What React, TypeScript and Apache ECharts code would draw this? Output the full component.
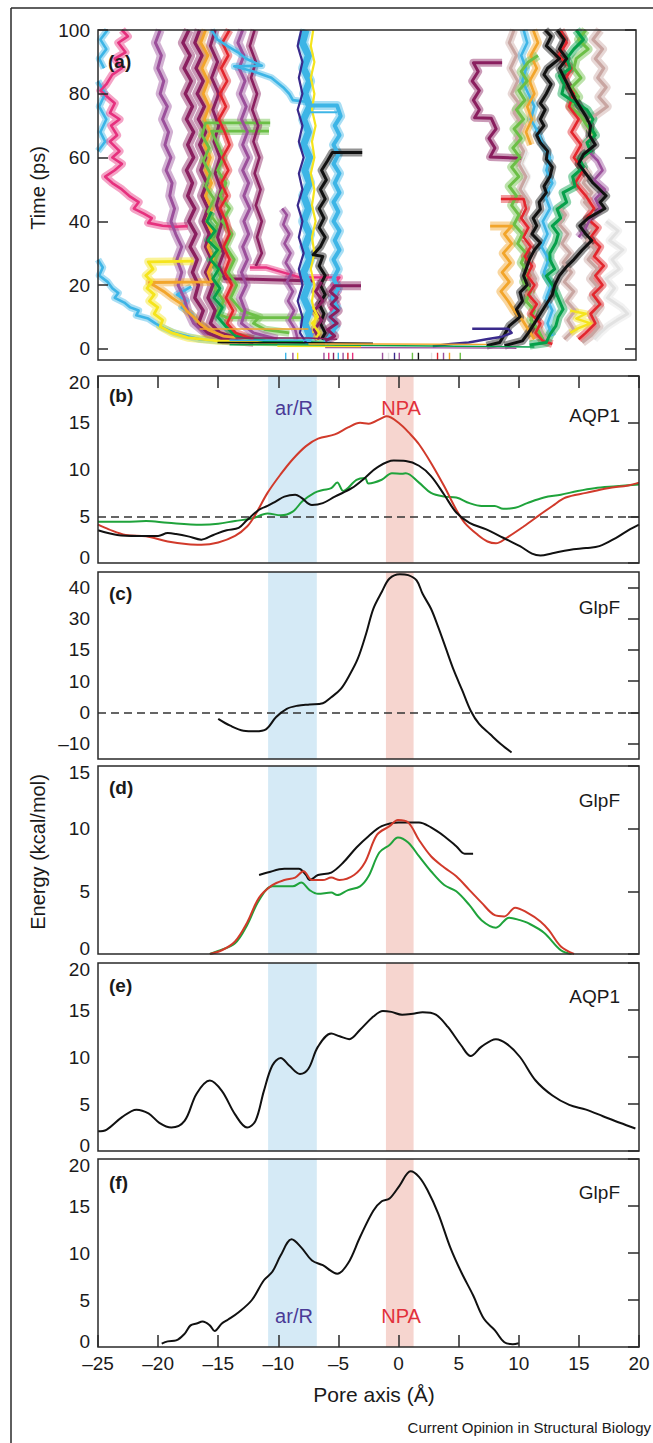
import React, { useEffect, useRef } from "react";
import * as echarts from "echarts";

// ---------- shared axis ----------
const X_MIN = -25;
const X_MAX = 20;
const X_STEP = 5;

// ---------- tick values ----------
const aYTicks = [0, 20, 40, 60, 80, 100];
const bYTicks = [0, 5, 10, 15, 20];
const cYTicks = [-10, 0, 10, 20, 30, 40];
const cYTickLabels = ["\u201310", "0", "10", "15", "30", "40"];
const dYTicks = [0, 5, 10, 15];
const eYTicks = [0, 5, 10, 15, 20];
const fYTicks = [0, 5, 10, 15, 20];

// ---------- regions (pore axis, Å) ----------
const arRegion = [-10.85, -6.8];
const npaRegion = [-1.05, 1.25];
const bDashY = 5;
const cDashY = 0;

// ---------- panel (b) AQP1 ----------
const bRed = [[-25,4.1],[-24.1,3.6],[-22.7,3.0],[-21.0,2.85],[-19.2,2.3],[-17.5,2.0],[-16.4,1.95],[-15.0,2.2],[-13.6,2.9],[-12.6,3.9],[-11.9,5.2],[-10.9,7.5],[-9.8,9.5],[-8.8,11.1],[-7.7,12.5],[-6.7,13.3],[-5.3,13.75],[-4.2,14.5],[-3.2,15.0],[-2.5,14.9],[-1.4,15.5],[-1.0,15.7],[0.0,15.0],[1.0,13.75],[1.7,12.7],[2.7,10.7],[3.8,8.2],[4.8,5.7],[5.5,4.3],[6.6,3.0],[7.4,2.3],[8.1,2.1],[9.0,2.7],[10.4,3.9],[11.8,5.2],[12.8,6.1],[13.9,7.0],[15.6,7.5],[17.4,8.0],[19.1,8.3],[20,8.6]];
const bBlack = [[-25,3.5],[-23.4,3.0],[-21.7,2.9],[-20.0,2.9],[-19.2,3.2],[-18.5,3.1],[-17.5,2.85],[-16.4,2.5],[-15.4,3.0],[-14.3,3.5],[-13.3,3.75],[-12.6,4.6],[-11.6,5.7],[-10.9,6.1],[-10.2,6.6],[-9.5,7.1],[-8.6,7.3],[-8.1,7.0],[-7.2,6.2],[-6.3,6.4],[-5.3,7.1],[-3.9,8.0],[-2.8,9.1],[-1.8,10.2],[-0.4,10.95],[0.6,10.9],[1.7,10.4],[2.7,9.3],[3.8,7.3],[4.8,5.4],[5.9,4.3],[7.3,3.6],[8.7,2.7],[10.1,1.8],[11.1,1.0],[11.8,0.8],[12.8,1.05],[14.2,1.4],[15.6,1.6],[16.7,1.8],[18.1,2.7],[19.1,3.5],[20,4.1]];
const bGreen = [[-25,4.4],[-22.7,4.4],[-21.0,4.5],[-19.2,4.3],[-16.4,4.1],[-15.0,4.2],[-13.6,4.5],[-12.2,4.75],[-10.9,5.3],[-9.8,5.1],[-8.8,5.5],[-8.0,6.6],[-7.0,7.5],[-6.3,7.8],[-5.6,8.0],[-5.1,8.6],[-4.6,7.7],[-3.5,8.9],[-2.8,9.1],[-2.5,8.5],[-1.4,8.9],[-0.55,9.6],[0.3,9.55],[0.6,9.6],[1.7,8.6],[2.7,7.5],[3.8,7.1],[4.8,7.0],[5.9,6.4],[6.9,6.1],[8.0,6.1],[8.7,5.8],[9.7,5.9],[10.7,6.4],[12.1,7.0],[13.5,7.3],[14.9,7.7],[16.3,8.0],[18.1,8.2],[20,8.4]];

// ---------- panel (c) GlpF ----------
const cBlack = [[-15.0,-2.1],[-14.0,-4.3],[-12.9,-5.9],[-11.9,-6.1],[-11.0,-5.4],[-10.2,-1.6],[-9.3,1.1],[-8.4,2.1],[-7.4,2.5],[-6.3,2.9],[-5.6,4.8],[-4.8,7.5],[-4.1,11.8],[-3.4,17.1],[-2.7,25.2],[-2.1,33.2],[-1.4,38.6],[-0.75,42.9],[0.1,44.3],[0.8,44.0],[1.5,42.3],[2.0,38.0],[2.7,33.2],[3.3,27.3],[3.9,20.9],[4.6,13.4],[5.3,7.0],[6.0,0.5],[6.7,-3.75],[7.6,-7.0],[8.5,-10.2],[9.4,-12.9]];

// ---------- panel (d) GlpF ----------
const dBlack = [[-11.6,6.3],[-10.9,6.5],[-9.5,6.8],[-8.3,6.8],[-7.7,6.3],[-7.4,5.9],[-6.7,6.3],[-5.6,6.5],[-4.6,7.3],[-3.5,8.5],[-2.5,9.4],[-1.4,10.2],[0.0,10.5],[1.7,10.5],[2.7,10.1],[3.8,9.4],[4.8,8.6],[5.5,8.0],[6.2,8.0]];
const dRed = [[-15.7,0],[-14.7,0.3],[-13.6,1.0],[-12.6,2.5],[-11.6,4.5],[-10.5,5.5],[-9.5,5.9],[-8.6,6.1],[-7.9,6.6],[-7.2,5.9],[-6.3,5.9],[-5.6,6.1],[-4.9,5.9],[-3.7,6.3],[-2.8,7.3],[-1.8,9.5],[-0.75,10.2],[-0.05,10.7],[0.8,10.5],[1.7,9.1],[2.7,7.8],[3.8,6.9],[4.8,6.2],[5.9,5.1],[6.9,4.1],[8.0,3.1],[8.8,3.0],[9.7,3.7],[10.7,3.3],[11.8,2.6],[12.5,1.9],[13.5,0.6],[14.6,0]];
const dGreen = [[-15.7,0],[-15.0,0.24],[-13.6,0.86],[-12.6,2.3],[-11.6,4.3],[-10.5,5.4],[-8.8,5.4],[-8.1,5.7],[-7.4,5.1],[-6.7,4.8],[-5.6,4.9],[-5.1,4.7],[-4.2,5.1],[-3.2,5.4],[-2.5,6.2],[-1.6,8.1],[-0.75,8.7],[-0.05,9.3],[0.8,8.9],[1.7,7.8],[2.7,6.6],[3.8,5.5],[4.8,5.0],[5.9,3.9],[6.9,2.7],[8.1,2.1],[9.2,2.9],[10.1,2.7],[10.7,2.5],[12.1,1.7],[13.5,0.3],[14.4,0]];

// ---------- panel (e) AQP1 ----------
const eBlack = [[-25,2.1],[-24.3,2.25],[-23.0,3.6],[-21.8,4.4],[-20.8,4.0],[-19.9,3.0],[-18.9,2.5],[-17.8,3.2],[-16.8,6.1],[-15.7,7.5],[-14.7,6.4],[-13.6,3.9],[-12.6,2.5],[-11.9,3.2],[-11.2,6.4],[-10.5,9.1],[-9.8,9.9],[-9.1,9.1],[-8.2,8.2],[-7.5,8.75],[-6.7,11.1],[-5.6,12.5],[-4.9,12.2],[-4.1,11.9],[-3.2,12.9],[-2.1,14.3],[-1.3,14.9],[-0.6,14.8],[0.3,14.5],[1.2,14.6],[2.0,14.75],[3.1,14.5],[4.1,13.2],[5.2,11.25],[6.0,10.1],[6.9,11.1],[8.1,11.9],[9.0,11.4],[10.1,10.0],[11.4,7.5],[12.8,5.9],[14.2,4.9],[15.6,4.4],[17.0,3.7],[18.4,3.0],[19.7,2.4]];

// ---------- panel (f) GlpF ----------
const fBlack = [[-19.7,0.35],[-19.2,0.6],[-18.5,0.7],[-17.8,1.4],[-17.3,2.3],[-16.8,2.5],[-16.3,2.7],[-15.7,2.3],[-15.3,1.7],[-14.7,2.5],[-14.2,2.9],[-13.3,3.7],[-12.2,5.0],[-11.2,7.1],[-10.5,8.0],[-9.8,9.75],[-8.9,11.45],[-8.1,10.6],[-7.2,9.2],[-6.3,8.7],[-5.1,7.8],[-4.2,8.9],[-3.2,11.7],[-2.1,14.5],[-1.4,15.5],[-0.75,15.8],[0.1,17.2],[1.0,18.7],[1.7,18.1],[2.4,16.7],[3.3,14.2],[4.3,10.6],[5.2,8.0],[6.2,5.5],[7.1,3.0],[8.0,1.8],[8.8,0.5],[9.5,0.3],[10.0,0.4]];

// ---------- panel (a) water trajectories: [pore axis Å, time ps] ----------
const trGrayR = [[17.5,40],[18.5,37],[17.8,34],[18.9,31],[18.0,28],[18.6,25],[17.5,22],[18.2,19],[17.6,16],[18.8,13],[19.3,11],[18.4,9],[17.6,7],[17.0,5],[16.5,3]];
const trGrayR2 = [[10.8,62],[10.3,58],[10.9,54],[10.4,50],[11.0,46],[10.5,42],[11.1,38],[10.6,34]];
const trBeigeR1 = [[9.8,100],[9.4,96],[10.0,92],[9.5,88],[10.1,84],[9.6,80],[10.2,77],[9.8,74],[10.5,70],[10.0,66],[10.6,62],[10.2,58],[10.8,54],[10.3,50],[11.0,46],[10.6,42],[11.2,38],[10.8,34],[11.4,30],[11.0,26],[11.6,22],[11.2,18],[11.8,14],[11.4,10],[12.0,6],[12.5,3]];
const trBeigeR = [[17.0,100],[16.4,97],[17.2,94],[16.6,91],[17.3,88],[16.8,85],[17.5,82],[16.9,79],[17.6,76],[16.5,73],[15.8,70],[16.3,67],[15.6,64],[16.2,61],[15.4,58],[16.0,55],[15.6,52],[16.3,49],[15.7,46],[16.4,43],[15.8,40],[16.5,37],[15.9,34],[16.6,31],[16.0,28],[16.8,25],[16.2,22],[16.9,19],[16.3,16],[17.0,13],[16.4,10],[16.9,7],[16.2,4],[15.5,2]];
const trBeigeR2 = [[13.5,45],[14.1,42],[13.6,39],[14.3,36],[13.8,33],[14.5,30],[13.9,27],[14.6,24],[14.0,21],[14.8,18],[14.2,15],[14.9,12],[14.3,9],[14.8,6],[14.0,3]];
const trCyanTopLeft1 = [[-24.2,100],[-24.8,97],[-24.3,94],[-24.9,91],[-24.5,88]];
const trCyanTopLeft2 = [[-25,84],[-24.4,80],[-24.9,76],[-24.3,72],[-24.8,68],[-24.4,65],[-25,62]];
const trPinkLeft = [[-23.0,100],[-22.5,98],[-23.3,96],[-22.7,93],[-23.6,91],[-23.0,88],[-23.8,86],[-24.3,83],[-24.8,81],[-24.2,79],[-23.6,77],[-24.0,74],[-23.2,72],[-23.9,70],[-23.4,67],[-24.0,65],[-23.2,62],[-23.8,60],[-23.0,58],[-23.6,56],[-24.4,54],[-23.8,52],[-23.0,50],[-22.4,48],[-21.6,46],[-22.0,44],[-21.2,42.5],[-20.5,41],[-20.8,39.5],[-19.6,38.6],[-18.5,38.3],[-17.5,38.5]];
const trCyanLowLeft = [[-25,28],[-24.6,25.5],[-24.9,23],[-24.2,21],[-23.8,19],[-23.3,17.5],[-23.6,16],[-22.8,14.5],[-22.3,13],[-21.6,12],[-21.8,10.5],[-20.8,9.5],[-20.2,8],[-19.5,6.5],[-18.6,5],[-17.6,4],[-16.5,3],[-14,2.2]];
const trCyanLowLeft2 = [[-17.2,19.5],[-18.4,17],[-17.6,15],[-18.0,13],[-17.2,11],[-16.8,9],[-16.2,7],[-15.5,5],[-14.5,3.5],[-12,2.8]];
const trPurpleLeft = [[-19.8,100],[-20.2,96],[-19.7,92],[-20.0,88],[-19.5,84],[-19.8,80],[-19.2,76],[-19.6,72],[-19.1,68],[-19.4,64],[-18.9,60],[-19.3,56],[-18.8,52],[-19.0,48],[-18.6,44],[-18.9,40],[-18.5,36],[-18.0,32],[-18.4,28],[-18.0,24],[-18.3,20],[-17.8,16],[-17.5,12],[-17.0,8],[-16.0,5],[-14,3]];
const trWine1 = [[-17.4,100],[-17.9,96],[-17.3,92],[-17.8,88],[-17.2,84],[-17.7,80],[-17.1,76],[-17.6,72],[-17.0,68],[-17.5,64],[-17.0,60],[-17.6,56],[-17.1,52],[-17.5,48],[-16.9,44],[-17.4,40],[-16.8,36],[-17.3,32],[-16.7,28],[-17.1,24],[-16.6,20],[-16.9,16],[-16.2,12],[-16.6,8],[-15.8,5],[-14.5,3],[-12,2.2]];
const trWine2 = [[-16.5,100],[-16.9,96],[-16.3,92],[-16.8,88],[-16.2,84],[-16.7,80],[-16.1,76],[-16.6,72],[-16.0,68],[-16.5,64],[-16.0,60],[-16.4,56],[-15.9,52],[-16.3,48],[-15.8,44],[-16.2,40],[-15.7,36],[-16.0,32],[-15.5,28],[-16.0,24],[-15.4,20],[-15.8,16],[-15.2,12],[-15.6,8],[-14.8,5],[-13,3]];
const trWine3 = [[-15.2,100],[-15.6,95],[-15.0,90],[-15.5,85],[-14.9,80],[-15.4,75],[-14.9,70],[-15.3,65],[-14.8,60],[-15.2,55],[-14.7,50],[-15.1,45],[-14.6,40],[-15.0,35],[-14.5,30],[-14.9,26],[-14.4,22],[-12,21.8],[-9,21.5],[-7,21.3]];
const trOrangeLeft = [[-16.0,100],[-16.4,96],[-15.8,92],[-16.3,88],[-15.8,84],[-16.2,80],[-15.7,76],[-16.1,72],[-15.6,68],[-16.1,64],[-15.6,60],[-16.0,56],[-15.5,52],[-16.0,48],[-15.5,44],[-15.9,40],[-15.4,36],[-15.8,32],[-15.3,28],[-15.8,24],[-15.5,21],[-20.7,20.8],[-19.5,18],[-18.8,16],[-18.0,14],[-17.6,12],[-17.0,10],[-16.5,8],[-15.8,6],[-14.5,4],[-12,3]];
const trYellowLeft = [[-17.0,27.5],[-20.8,27.3],[-20.4,25],[-21.0,23],[-20.5,21],[-20.9,19],[-20.3,17],[-20.7,15],[-20.0,13],[-20.3,11],[-19.6,9],[-19.8,7],[-18.8,5],[-17.5,3.5],[-15,2.5],[-10,2]];
const trLGreen1 = [[-10.6,70.9],[-16.0,70.9],[-16.3,67],[-15.7,63],[-16.2,59],[-15.6,55],[-16.0,51],[-15.3,47],[-15.8,43],[-15.0,39],[-15.5,35],[-14.8,31],[-15.3,27],[-14.7,23],[-15.2,19],[-14.5,15],[-15.0,11],[-14.2,9.8],[-10,9.8],[-7.3,9.8]];
const trLGreen2 = [[-10.7,68.3],[-15.5,68.3],[-15.0,64],[-14.5,60],[-15.0,56],[-14.3,52],[-14.8,48],[-14.0,44],[-14.6,40],[-13.8,36],[-14.3,32],[-13.6,28],[-14.1,24],[-13.4,20],[-13.9,16],[-13.0,12],[-11.5,10],[-12,8],[-11,6],[-9,5]];
const trDGreenLeft = [[-15.5,43],[-15.9,40],[-15.2,37],[-15.8,34],[-15.0,31],[-15.6,28],[-14.9,25],[-15.4,22],[-14.8,19],[-15.3,16],[-14.6,13],[-15.0,10],[-14.3,7],[-13.5,4],[-11,2.5],[-6,1.8]];
const trRedLeft = [[-14.0,100],[-14.6,96],[-14.1,92],[-14.7,88],[-14.2,84],[-14.8,80],[-14.3,76],[-14.9,72],[-14.4,68],[-14.0,64],[-14.6,60],[-14.1,56],[-14.7,52],[-14.2,48],[-14.8,44],[-14.3,40],[-14.0,36],[-14.5,32],[-14.0,28],[-14.4,24],[-13.8,20],[-14.3,16],[-13.7,12],[-14.2,8],[-13.5,5],[-12,3]];
const trPurple2 = [[-12.9,100],[-13.3,96],[-12.8,92],[-13.2,88],[-12.7,84],[-13.1,80],[-12.6,76],[-13.0,72],[-12.5,68],[-12.9,64],[-12.4,60],[-12.9,56],[-12.4,52],[-12.8,48],[-12.3,44],[-12.8,40],[-12.4,36],[-12.9,32],[-12.5,28],[-13.0,24],[-12.6,20],[-13.1,16],[-12.7,12],[-13.0,8],[-12,5],[-10,3]];
const trWine4 = [[-11.9,100],[-12.3,95],[-11.8,90],[-12.2,85],[-11.7,80],[-12.1,75],[-11.6,70],[-12.0,65],[-11.5,60],[-11.9,55],[-11.4,50],[-11.8,45],[-11.3,40],[-11.7,35],[-11.3,30],[-11.8,26]];
const trPinkMid = [[-12.3,25.5],[-10.9,25.5],[-8.1,22.4],[-4.8,22.4],[-5.3,20],[-4.9,18],[-5.5,16],[-5.0,14],[-5.6,12]];
const trCyanMidTop = [[-15.5,100],[-15.0,97],[-14.2,95],[-13.3,93],[-12.6,91],[-11.3,88.8],[-13.6,88.6],[-12.0,87],[-10.5,85],[-9.5,82],[-9.0,80],[-8.7,78],[-7.6,77.5]];
const trCyanBand = [[-7.6,100],[-7.9,96],[-7.4,92],[-7.8,88],[-7.3,84],[-7.7,80],[-7.3,76],[-7.8,72],[-7.4,68],[-7.8,64],[-7.3,60],[-7.7,56],[-7.3,52],[-7.8,48],[-7.4,44],[-7.8,40],[-7.3,36],[-7.7,32],[-7.3,28],[-7.8,24],[-7.4,20],[-7.8,16],[-7.3,12],[-7.7,8],[-7.3,4],[-7.6,1.5]];
const trIndigoBand = [[-8.0,100],[-8.3,95],[-7.9,90],[-8.2,85],[-7.9,80],[-8.3,75],[-7.9,70],[-8.2,65],[-7.8,60],[-8.2,55],[-7.9,50],[-8.3,45],[-7.9,40],[-8.2,35],[-7.8,30],[-8.2,25],[-7.9,20],[-8.3,15],[-7.9,10],[-8.1,5],[-7.6,2]];
const trYellowBand = [[-7.0,100],[-7.2,95],[-6.9,90],[-7.2,85],[-6.9,80],[-7.1,75],[-6.8,70],[-7.1,65],[-6.9,60],[-7.2,55],[-6.9,50],[-7.1,45],[-6.8,40],[-7.1,35],[-6.9,30],[-7.2,25],[-6.9,20],[-7.1,15],[-6.8,10],[-7.0,5]];
const trCyanMid = [[-7.4,76.3],[-5.0,76.3],[-4.7,73],[-5.2,70],[-4.8,67],[-5.3,64],[-4.9,61],[-5.3,58],[-4.8,55],[-5.2,52],[-4.8,49],[-5.3,46],[-4.9,43],[-5.3,40],[-4.8,37],[-5.2,34],[-4.8,31],[-5.3,28],[-4.9,25],[-5.3,22],[-4.9,19],[-5.4,16],[-5.0,13],[-5.5,10],[-5.1,7],[-5.6,4],[-6.0,2]];
const trCyanMidJump = [[-7.4,74.2],[-5.0,74.2]];
const trBlackMid = [[-2.9,61.6],[-5.4,61.6],[-5.8,59],[-6.3,56],[-5.9,53],[-6.4,50],[-6.0,47],[-6.5,44],[-6.1,41],[-6.5,38],[-6.0,35],[-6.4,32],[-7.0,29.5],[-6.2,29],[-6.5,26],[-6.0,23],[-6.4,20],[-6.0,17],[-6.5,14],[-6.1,11],[-6.4,8],[-6.0,5],[-6.3,3]];
const trPurpleMid = [[-9.6,44],[-9.2,42],[-9.5,39],[-9.0,36],[-9.4,33],[-8.9,30],[-9.3,27],[-8.8,24],[-9.2,21],[-8.7,18],[-9.1,15],[-8.6,12],[-9.0,9],[-8.5,6],[-8.3,3]];
const trWineMid1 = [[-3.0,19.8],[-5.2,19.8],[-5.6,18],[-5.0,16],[-5.5,14],[-4.9,12],[-5.6,10],[-5.0,8],[-5.8,6],[-5.2,4],[-6,2.5]];
const trWineMid2 = [[-6.3,21],[-6.8,18],[-6.2,15],[-6.9,12],[-6.3,9],[-6.9,6],[-6.5,3]];
const trYellowMid = [[-7.0,13],[-6.6,10],[-7.1,8],[-6.5,5],[-6.8,3]];
const trWineRight = [[8.8,89.7],[6.4,89.7],[6.8,87],[6.3,84],[6.9,81],[6.4,78],[6.9,75],[6.5,72.5],[7.9,72.3],[8.3,69],[7.7,66],[8.2,63],[7.8,60.2],[10.4,59.8]];
const trCyanR = [[10.6,100],[10.9,96],[10.4,92],[10.8,88],[10.5,84],[11.0,80],[11.5,76],[11.2,72],[11.8,68],[12.2,64],[12.8,60],[12.5,56],[13.0,52],[12.4,48],[12.8,44],[12.2,40],[12.6,36],[12.1,32],[12.7,28],[12.3,24],[12.9,20],[12.5,16],[13.0,12],[12.6,8],[13.0,4]];
const trOrangeRTop = [[11.4,100],[11.8,96],[11.2,92],[11.7,88],[11.1,84],[11.5,80],[10.9,76],[11.3,72],[10.8,68],[11.2,64]];
const trOrangeRLow = [[7.8,38.5],[9.6,38.5],[9.0,36],[9.6,33],[8.9,30],[9.5,27],[8.8,24],[9.4,21],[8.7,18],[9.3,15],[9.8,12],[10.5,9],[11.0,6],[11.5,3]];
const trLGreenR1 = [[11.8,92],[11.0,90],[10.4,87],[10.9,84],[10.2,81],[10.7,78],[10.0,75],[10.6,72],[9.8,69],[10.4,66],[9.7,63],[10.3,60],[9.6,57],[10.2,54],[9.4,51],[10.0,48],[9.6,45],[10.2,42],[9.8,39],[10.5,36],[10.1,33],[10.8,30],[10.4,27],[11.0,24],[10.6,21],[11.2,18],[10.8,15],[11.5,12],[11.2,9],[11.8,6],[12.2,3]];
const trLGreenR2 = [[15.8,100],[15.2,97],[16.0,94],[15.0,91],[14.8,88],[15.4,85],[14.6,82],[15.2,79],[14.5,76],[15.4,73],[15.9,70],[16.5,67]];
const trDGreenR = [[15.0,100],[15.6,97],[14.8,94],[14.2,91],[14.5,88],[13.6,85.6],[14.0,83],[13.8,80],[14.6,78],[15.9,75],[16.4,72],[16.1,70],[16.6,67],[15.9,64.7],[16.2,62],[15.3,59.5],[15.6,57],[14.7,54],[14.9,51],[13.9,49],[14.2,46],[13.4,43.8],[13.7,41],[13.0,38.6],[13.5,36],[13.3,33.3],[12.8,30],[12.8,28],[13.2,25],[12.5,22.9],[13.0,20],[13.3,17.7],[13.6,15],[13.9,12.4],[13.5,10],[13.3,7.2],[12.8,4.5],[12.5,2],[11.1,1.2]];
const trBlackR1 = [[12.4,100],[12.9,98],[12.5,95],[13.6,91],[12.6,88],[12.3,86],[12.9,83],[12.5,80],[12.0,77],[12.4,75],[12.0,72],[12.3,70],[11.7,67],[12.0,64.7],[12.6,62],[12.5,59.5],[13.0,57],[12.8,54],[12.3,51],[12.5,49],[11.9,46],[12.0,43.8],[11.4,41],[11.7,38.6],[11.3,36],[12.0,33.3],[11.5,31],[11.1,28.1],[10.8,25],[10.6,22.9],[10.9,20],[10.3,17.7],[10.5,15],[10.0,12.4],[10.3,10],[9.4,7.2],[9.0,4.5],[8.6,2],[7.5,1]];
const trBlackR2 = [[13.4,100],[14.0,97],[13.6,94],[14.2,91],[13.6,88],[14.0,85],[14.4,82],[14.8,79],[15.3,76],[15.8,73],[16.2,70],[16.1,67],[16.6,64],[15.6,61],[15.2,58],[15.8,55],[16.4,52],[17.5,48],[17.0,46],[17.4,44],[16.0,41],[15.3,38.6],[15.8,36],[16.3,34],[15.5,31],[14.8,28],[14.2,25.8],[13.6,23],[13.2,20],[13.0,17],[12.5,14],[12.0,11],[11.5,8],[11.0,5],[10.5,2.5],[9.0,1]];
const trRedRA = [[8.7,47],[10.6,47],[10.8,44],[10.4,41],[11.0,38],[10.6,35],[11.2,32],[10.7,29],[11.3,26],[10.9,23],[11.5,20],[11.0,17],[11.7,14],[11.2,11],[12.0,8],[11.6,5],[12.2,2.5],[13,1.5]];
const trRedRB = [[13.7,100],[14.2,96],[13.5,92],[14.6,88],[14.0,84],[14.8,80],[14.4,76],[15.2,72],[14.6,68],[15.4,64],[14.8,60],[15.6,56],[14.9,52],[15.8,48],[16.5,44],[15.9,41],[16.8,38],[16.2,35],[17.0,32],[16.5,29],[17.3,26],[16.6,23],[17.2,20],[16.4,17],[17.0,14],[16.2,11],[16.6,8],[15.8,5],[15.2,3]];
const trPurpleR = [[16.0,62],[16.8,59],[17.2,56],[16.5,53],[17.4,50],[16.6,47],[17.0,44],[16.2,41],[15.8,38],[15.2,35]];
const trYellowR = [[14.5,12],[15.8,11],[15.0,9.5],[16.2,8],[15.2,6.5],[14.5,5]];
const trIndigoR = [[6.3,6.3],[9.3,6.3],[9.6,5],[8.8,3.8],[7.5,3.0],[6.0,2.0],[4.5,1.5],[3.0,0.8]];
const trBotOrange1 = [[-16.5,6.2],[-7.4,6.2]];
const trBotMagenta = [[-13.5,3.4],[-7.4,3.4],[-5,3.0]];
const trBotCyan = [[-14,2.7],[-7.4,2.7]];
const trBotBlack = [[-15,2.0],[-7.4,1.9],[-2,1.7]];
const trBotGreen = [[-14,1.3],[-7.4,1.2],[3,0.9],[11.5,0.6]];
const trBotOrange2 = [[-7.4,1.5],[-1.7,1.5],[7.5,1.4]];
const trBotPurple = [[-6,0.4],[4,0.3],[10,0.2]];
const trBotYellow = [[-10,0.8],[-3,0.7]];
const bottomTickX = [-9.3,-8.7,-8.3,-6.1,-5.7,-5.3,-4.9,-4.5,-4.1,-3.7,-1.2,-0.7,-0.2,0.2,1.3,1.8,2.9,3.4,3.9,4.4,5.3];
const bottomTickT = [-1.2, -3.5];

// ---------- styles ----------
const COL = {
  black: "#111111", pink: "#e6317e", cyan: "#3db5e6", wine: "#8a1f5f", purple: "#9b4f9b",
  orange: "#f2a52b", yellow: "#f5e41c", lgreen: "#6cbf47", dgreen: "#05a04a", red: "#e3262d",
  indigo: "#3a2a8c", beige: "#c9a6a2", gray: "#e2e2e2",
};
const bottomTickColors = ["cyan","purple","yellow","purple","pink","wine","cyan","purple","red","pink","purple","gray","indigo","purple","lgreen","black","gray","red","purple","orange","lgreen"];

// [points, colour key, line width, halo width (0 = none)]
const aTraj: [number[][], string, number, number][] = [
  [trGrayR, "gray", 3, 8], [trGrayR2, "gray", 3, 8], [trBeigeR1, "beige", 3, 8], [trBeigeR, "beige", 3.2, 9], [trBeigeR2, "beige", 3, 8],
  [trCyanTopLeft1, "cyan", 2.6, 7], [trCyanTopLeft2, "cyan", 2.6, 7], [trPinkLeft, "pink", 2.6, 8], [trCyanLowLeft, "cyan", 2.6, 7], [trCyanLowLeft2, "cyan", 2.6, 7],
  [trPurpleLeft, "purple", 3, 9], [trWine1, "wine", 3.4, 10], [trWine2, "wine", 3.4, 10], [trWine3, "wine", 3, 9], [trOrangeLeft, "orange", 2.8, 8],
  [trYellowLeft, "yellow", 2.8, 8], [trLGreen1, "lgreen", 2.8, 8], [trLGreen2, "lgreen", 2.8, 8], [trDGreenLeft, "dgreen", 2.8, 8], [trRedLeft, "red", 2.6, 8],
  [trPurple2, "purple", 3, 9], [trWine4, "wine", 2.6, 8], [trPinkMid, "pink", 2.4, 7], [trCyanMidTop, "cyan", 2.6, 7],
  [trCyanBand, "cyan", 7, 11], [trIndigoBand, "indigo", 2.2, 0], [trYellowBand, "yellow", 2.2, 0],
  [trCyanMid, "cyan", 4, 9], [trCyanMidJump, "cyan", 2, 0], [trBlackMid, "black", 3, 8], [trPurpleMid, "purple", 2.6, 8],
  [trWineMid1, "wine", 3, 9], [trWineMid2, "wine", 3, 9], [trYellowMid, "yellow", 2.4, 7],
  [trWineRight, "wine", 3, 8], [trCyanR, "cyan", 2.6, 8], [trOrangeRTop, "orange", 2.6, 8], [trOrangeRLow, "orange", 2.8, 9],
  [trLGreenR1, "lgreen", 3, 9], [trLGreenR2, "lgreen", 3, 9], [trRedRA, "red", 2.6, 8], [trRedRB, "red", 2.6, 8], [trPurpleR, "purple", 2.6, 8],
  [trBlackR1, "black", 3, 8], [trDGreenR, "dgreen", 3, 9], [trBlackR2, "black", 3, 8], [trYellowR, "yellow", 2.4, 7], [trIndigoR, "indigo", 2.4, 0],
  [trBotOrange1, "orange", 1.6, 0], [trBotMagenta, "wine", 1.6, 0], [trBotCyan, "cyan", 1.6, 0], [trBotBlack, "black", 1.6, 0],
  [trBotGreen, "dgreen", 1.6, 0], [trBotOrange2, "orange", 1.4, 0], [trBotPurple, "purple", 1.4, 0], [trBotYellow, "yellow", 1.4, 0],
];

const FONT = "'Liberation Sans', Arial, Helvetica, sans-serif";
const AX = "#2a2a2a";
const LABEL_COL = "#1a1a1a";
const CURVE_RED = "#d13a2b";
const CURVE_GREEN = "#1fa33b";
const CURVE_BLACK = "#111111";
const BAND_BLUE = "#d5eaf6";
const BAND_PINK = "#f6d5cf";

const panels = [
  { top: 30, height: 330, width: 538, yMin: -3.5, yMax: 100, ticks: aYTicks, texts: null as string[] | null, leftTicks: true, inset: false },
  { top: 376, height: 187, width: 541, yMin: 0, yMax: 20, ticks: bYTicks, texts: null, leftTicks: false, inset: true },
  { top: 572, height: 187, width: 541, yMin: -15, yMax: 45, ticks: cYTicks, texts: cYTickLabels, leftTicks: false, inset: false },
  { top: 766, height: 188, width: 541, yMin: 0, yMax: 15, ticks: dYTicks, texts: null, leftTicks: false, inset: true },
  { top: 963, height: 188, width: 541, yMin: 0, yMax: 20, ticks: eYTicks, texts: null, leftTicks: false, inset: true },
  { top: 1159, height: 188, width: 541, yMin: 0, yMax: 20, ticks: fYTicks, texts: null, leftTicks: false, inset: true },
];

function numText(v: number) {
  return v < 0 ? "\u2013" + Math.abs(v) : String(v);
}

function buildOption() {
  const grid: any[] = [];
  const xAxis: any[] = [];
  const yAxis: any[] = [];
  const series: any[] = [];
  const tickStyle = { color: AX, width: 1.5 };
  const labelBase = { fontSize: 19, color: LABEL_COL, fontFamily: FONT };

  panels.forEach((p, i) => {
    grid.push({
      left: 98, top: p.top, width: p.width, height: p.height, show: true,
      borderColor: AX, borderWidth: 1.5, backgroundColor: "transparent", z: 10,
    });
    xAxis.push({
      type: "value", gridIndex: i, min: X_MIN, max: X_MAX, interval: X_STEP, position: "bottom", z: 10,
      axisLine: { show: false, onZero: false },
      axisTick: { show: i === 5, inside: true, length: 12, lineStyle: tickStyle },
      axisLabel: { show: i === 5, formatter: numText, ...labelBase, margin: 7 },
      splitLine: { show: false },
    });
  });
  // one band grid per energy panel (b–f), so the shading stops at each panel frame
  for (let i = 1; i < panels.length; i++) {
    const p = panels[i];
    grid.push({ left: 98, top: p.top, width: p.width, height: p.height, show: false });
  }
  xAxis.push({
    type: "value", gridIndex: 1, min: X_MIN, max: X_MAX, interval: X_STEP, position: "top", z: 10,
    axisLine: { show: false, onZero: false },
    axisTick: { show: true, inside: true, length: 12, lineStyle: tickStyle },
    axisLabel: { show: false }, splitLine: { show: false },
  });
  const bandXStart = xAxis.length;
  for (let i = 1; i < panels.length; i++) {
    xAxis.push({ type: "value", gridIndex: 5 + i, min: X_MIN, max: X_MAX, show: false });
  }

  panels.forEach((p, i) => {
    const texts = p.texts;
    yAxis.push({
      type: "value", gridIndex: i, min: p.yMin, max: p.yMax, position: "left", z: 10,
      axisLine: { show: false, onZero: false },
      axisTick: { show: p.leftTicks, inside: true, length: 10, customValues: p.ticks, lineStyle: tickStyle },
      axisLabel: {
        show: true, customValues: p.ticks, ...labelBase, margin: 8,
        rich: {
          dn: { ...labelBase, padding: [13, 0, 0, 0] },
          up: { ...labelBase, padding: [0, 0, 11, 0] },
        },
        formatter: (v: number) => {
          let s = numText(v);
          if (texts) {
            const k = p.ticks.indexOf(v);
            if (k >= 0) s = texts[k];
          }
          if (p.inset && v === p.yMax) return "{dn|" + s + "}";
          if (p.inset && v === p.yMin) return "{up|" + s + "}";
          return s;
        },
      },
      splitLine: { show: false },
    });
  });
  panels.forEach((p, i) => {
    yAxis.push({
      type: "value", gridIndex: i, min: p.yMin, max: p.yMax, position: "right", z: 10,
      axisLine: { show: false, onZero: false },
      axisTick: { show: true, inside: true, length: 11, customValues: p.ticks, lineStyle: tickStyle },
      axisLabel: { show: false }, splitLine: { show: false },
    });
  });
  const bandYStart = yAxis.length;
  for (let i = 1; i < panels.length; i++) {
    yAxis.push({ type: "value", gridIndex: 5 + i, min: 0, max: 1, show: false });
  }

  // shaded ar/R and NPA regions
  for (let k = 0; k < panels.length - 1; k++) {
    series.push({
      type: "line", xAxisIndex: bandXStart + k, yAxisIndex: bandYStart + k, data: [[X_MIN, 0]], symbol: "none", silent: true, z: 1,
      lineStyle: { opacity: 0 },
      markArea: {
        silent: true,
        data: [
          [{ xAxis: arRegion[0], itemStyle: { color: BAND_BLUE } }, { xAxis: arRegion[1] }],
          [{ xAxis: npaRegion[0], itemStyle: { color: BAND_PINK } }, { xAxis: npaRegion[1] }],
        ],
      },
    });
  }

  // panel (a): fuzzy halos first, then the lines
  aTraj.forEach(([pts, c, w, halo]) => {
    if (!halo) return;
    series.push({
      type: "line", xAxisIndex: 0, yAxisIndex: 0, data: pts, symbol: "none", showSymbol: false, silent: true, z: 2,
      lineStyle: { color: (COL as any)[c], width: halo, opacity: 0.45, join: "round" },
    });
  });
  aTraj.forEach(([pts, c, w]) => {
    series.push({
      type: "line", xAxisIndex: 0, yAxisIndex: 0, data: pts, symbol: "none", showSymbol: false, silent: true, z: 3,
      lineStyle: { color: (COL as any)[c], width: w, join: "round" },
    });
  });
  bottomTickX.forEach((x, k) => {
    series.push({
      type: "line", xAxisIndex: 0, yAxisIndex: 0, data: bottomTickT.map((t) => [x, t]), symbol: "none", silent: true, z: 3,
      lineStyle: { color: (COL as any)[bottomTickColors[k]], width: 1.4 },
    });
  });

  const curve = (pi: number, data: number[][], color: string, extra: any = {}) => ({
    type: "line", xAxisIndex: pi, yAxisIndex: pi, data, symbol: "none", smooth: 0.35, silent: true, z: 5,
    lineStyle: { color, width: 2 }, ...extra,
  });
  const dash = (y: number) => ({
    silent: true, symbol: "none", label: { show: false },
    lineStyle: { type: [8, 5], color: "#333", width: 1.5 },
    data: [{ yAxis: y }],
  });
  series.push(curve(1, bGreen, CURVE_GREEN));
  series.push(curve(1, bRed, CURVE_RED));
  series.push(curve(1, bBlack, CURVE_BLACK, { markLine: dash(bDashY) }));
  series.push(curve(2, cBlack, CURVE_BLACK, { markLine: dash(cDashY) }));
  series.push(curve(3, dBlack, CURVE_BLACK));
  series.push(curve(3, dGreen, CURVE_GREEN));
  series.push(curve(3, dRed, CURVE_RED));
  series.push(curve(4, eBlack, CURVE_BLACK));
  series.push(curve(5, fBlack, CURVE_BLACK));

  const txt = (text: string, x: number, y: number, o: any = {}) => ({
    type: "text", x, y, z: 20, rotation: o.rotation || 0, silent: true,
    style: {
      text, fill: o.fill || LABEL_COL, fontSize: o.size || 19, fontFamily: FONT,
      fontWeight: o.bold ? "bold" : "normal", align: o.align || "left", verticalAlign: "middle",
    },
  });

  const graphic: any[] = [
    { type: "line", z: 20, silent: true, shape: { x1: 11, y1: 8, x2: 653, y2: 8 }, style: { stroke: AX, lineWidth: 1.5 } },
    { type: "line", z: 20, silent: true, shape: { x1: 11, y1: 8, x2: 11, y2: 1443 }, style: { stroke: AX, lineWidth: 1.5 } },
    txt("(a)", 108, 61, { bold: true }),
    txt("(b)", 109, 395, { bold: true }),
    txt("(c)", 109, 593, { bold: true }),
    txt("(d)", 109, 787, { bold: true }),
    txt("(e)", 109, 985, { bold: true }),
    txt("(f)", 109, 1182, { bold: true }),
    txt("AQP1", 620, 415, { align: "right" }),
    txt("GlpF", 620, 607, { align: "right" }),
    txt("GlpF", 620, 800, { align: "right" }),
    txt("AQP1", 620, 996, { align: "right" }),
    txt("GlpF", 620, 1192, { align: "right" }),
    txt("ar/R", 294, 408, { align: "center", fill: "#4a3a97", size: 20 }),
    txt("NPA", 401, 408, { align: "center", fill: "#e2313b", size: 20 }),
    txt("ar/R", 294, 1316, { align: "center", fill: "#4a3a97", size: 20 }),
    txt("NPA", 401, 1316, { align: "center", fill: "#e2313b", size: 20 }),
    txt("Time (ps)", 38, 188, { align: "center", size: 20, rotation: Math.PI / 2 }),
    txt("Energy (kcal/mol)", 38, 852, { align: "center", size: 20, rotation: Math.PI / 2 }),
    txt("Pore axis (\u00c5)", 374, 1394, { align: "center", size: 21 }),
    txt("Current Opinion in Structural Biology", 651, 1427, { align: "right", size: 15 }),
  ];

  return {
    animation: false,
    backgroundColor: "#ffffff",
    grid, xAxis, yAxis, series, graphic,
  };
}

export default function App() {
  const ref = useRef<HTMLDivElement>(null);
  useEffect(() => {
    if (!ref.current) return;
    const chart = echarts.init(ref.current, null, { renderer: "svg" });
    chart.setOption(buildOption() as any);
    return () => chart.dispose();
  }, []);
  return (
    <div
      ref={ref}
      style={{ position: "absolute", left: 0, top: 0, width: 653, height: 1443, background: "#fff" }}
    />
  );
}
